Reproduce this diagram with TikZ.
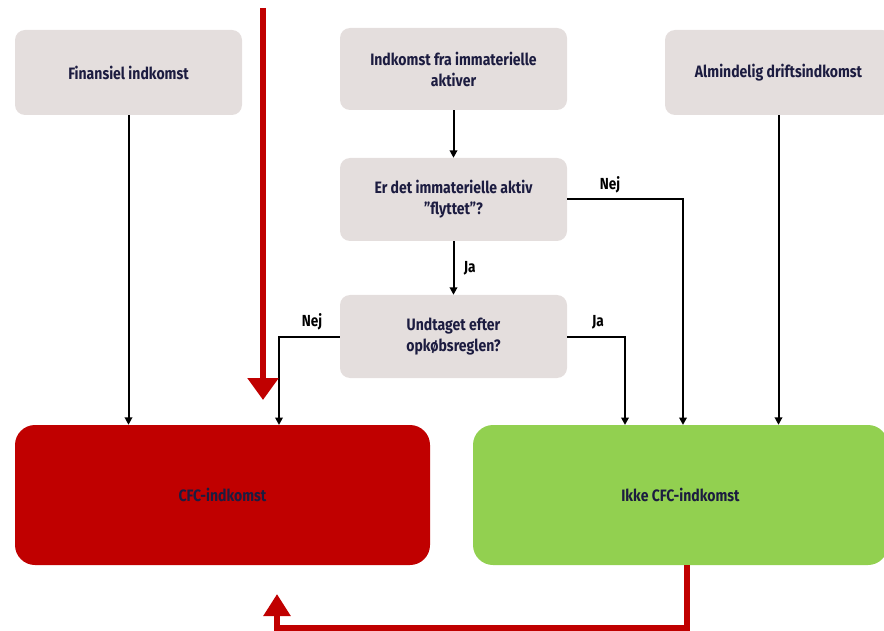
\documentclass[tikz,border=0pt]{standalone}
\usepackage{fontspec}
\setmainfont[FakeStretch=0.85]{Fira Sans}[BoldFont={Fira Sans Bold}]
\usetikzlibrary{arrows.meta}
\definecolor{boxgray}{HTML}{E4DEDD}
\definecolor{navy}{HTML}{1C1C40}
\definecolor{cfcred}{HTML}{C00000}
\definecolor{okgreen}{HTML}{92D050}
\tikzset{
  qbox/.style={fill=boxgray, draw=none, rounded corners=10pt, minimum width=227pt, align=center, text=navy, font=\fontsize{16.5}{21}\selectfont\bfseries},
  bigbox/.style={draw=none, rounded corners=20pt, minimum width=415pt, minimum height=140pt, text=navy, font=\fontsize{16.5}{21}\selectfont\bfseries},
  conn/.style={line width=2pt, -{Triangle[length=7.5pt,width=7.5pt]}},
  lbl/.style={font=\fontsize{16}{19}\selectfont\bfseries, text=black},
  redarrow/.style={line width=6.5pt, cfcred, -{Triangle[length=22pt,width=30pt]}}
}
\begin{document}
\begin{tikzpicture}[x=1pt,y=-1pt]
\useasboundingbox (0,0) rectangle (884,631);
\node[qbox, minimum height=85pt] (fin) at (128.5,72.5) {Finansiel indkomst};
\node[qbox, minimum height=82pt] (imm) at (453.5,69) {Indkomst fra immaterielle\\aktiver};
\node[qbox, minimum height=85pt] (alm) at (778.5,72.5) {Almindelig driftsindkomst};
\node[qbox, minimum height=83pt] (flyt) at (453.5,199.5) {Er det immaterielle aktiv\\\char"201D flyttet\char"201D?};
\node[qbox, minimum height=83pt] (opk) at (453.5,336.5) {Undtaget efter\\opkøbsreglen?};
\node[bigbox, fill=cfcred] (cfc) at (222.5,495) {CFC-indkomst};
\node[bigbox, fill=okgreen] (ikke) at (680.5,495) {Ikke CFC-indkomst};

\coordinate (nejA) at (683,425);
\coordinate (nejB) at (279,425);
\coordinate (jaB) at (625,425);

\draw[conn] (fin.south) -- (fin.south |- cfc.north);
\draw[conn] (alm.south) -- (alm.south |- ikke.north);
\draw[conn] (imm.south) -- (flyt.north);
\draw[conn] (flyt.south) -- node[lbl, right=6pt, pos=0.5] {Ja} (opk.north);
\draw[conn] (flyt.east) -| (nejA);
\draw[conn] (opk.west) -| (nejB);
\draw[conn] (opk.east) -| (jaB);
\node[lbl] (nejlA) at (610,185) {Nej};
\node[lbl] (nejlB) at (312,322) {Nej};
\node[lbl] (jalB) at (598,322) {Ja};

\coordinate (rt1) at (263,8);
\coordinate (rt2) at (263,400);
\draw[redarrow] (rt1) -- (rt2);

\coordinate (rb1) at (687,565);
\coordinate (rb2) at (687,628);
\coordinate (rb3) at (277,628);
\coordinate (rb4) at (277,594);
\draw[redarrow, -{Triangle[length=22pt,width=26pt]}] (rb1) -- (rb2) -- (rb3) -- (rb4);
\end{tikzpicture}
\end{document}
